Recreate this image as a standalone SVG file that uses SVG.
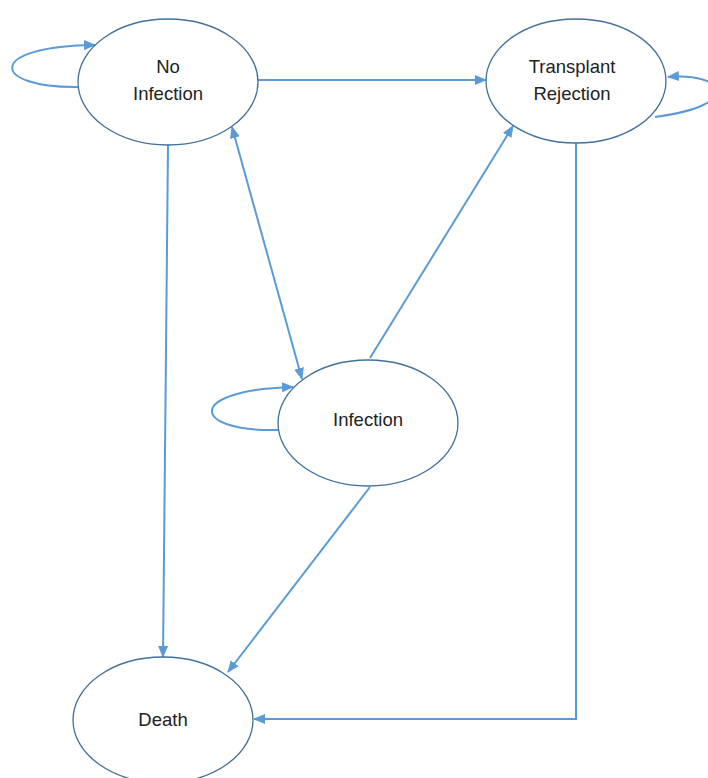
<svg xmlns="http://www.w3.org/2000/svg" width="708" height="778" viewBox="0 0 708 778">
<defs>
<marker id="ah" markerWidth="12" markerHeight="10" refX="11" refY="5" orient="auto" markerUnits="userSpaceOnUse">
<path d="M0,0 L12,5 L0,10 Z" fill="#5B9BD5"/>
</marker>
<marker id="as" markerWidth="12" markerHeight="10" refX="1" refY="5" orient="auto" markerUnits="userSpaceOnUse">
<path d="M12,0 L0,5 L12,10 Z" fill="#5B9BD5"/>
</marker>
</defs>
<style>
.n{fill:#fff;stroke:#41719C;stroke-width:1.3}
.c{fill:none;stroke:#5B9BD5;stroke-width:2}
.t{font-family:"Liberation Sans",Arial,sans-serif;font-size:18.5px;fill:#222;text-anchor:middle}
</style>
<rect width="708" height="778" fill="#fff"/>
<g id="connectors">
<path class="c" d="M78,87 C -10,88 -15,46 95,45" marker-end="url(#ah)"/>
<path class="c" d="M258,80 L486,80" marker-end="url(#ah)"/>
<path class="c" d="M168,145 L163,657" marker-end="url(#ah)"/>
<path class="c" d="M232,127 L302,379" marker-start="url(#as)" marker-end="url(#ah)"/>
<path class="c" d="M278,430 C 190,432 185,390 293,387" marker-end="url(#ah)"/>
<path class="c" d="M370,358 L513,126" marker-end="url(#ah)"/>
<path class="c" d="M370,487 L228,672" marker-end="url(#ah)"/>
<path class="c" d="M655,117 C 745,105 725,72 668,77" marker-end="url(#ah)"/>
<path class="c" d="M576,143 L576,719 L254,719" marker-end="url(#ah)"/>
</g>
<g id="no-infection">
<ellipse class="n" cx="168" cy="82" rx="90" ry="63"/>
<text class="t" x="168" y="73">No</text>
<text class="t" x="168" y="100">Infection</text>
</g>
<g id="transplant-rejection">
<ellipse class="n" cx="576" cy="81" rx="90" ry="62"/>
<text class="t" x="572" y="73">Transplant</text>
<text class="t" x="572" y="100">Rejection</text>
</g>
<g id="infection">
<ellipse class="n" cx="368" cy="423" rx="90" ry="63"/>
<text class="t" x="368" y="426">Infection</text>
</g>
<g id="death">
<ellipse class="n" cx="163" cy="720" rx="90" ry="63"/>
<text class="t" x="163" y="726">Death</text>
</g>
</svg>
